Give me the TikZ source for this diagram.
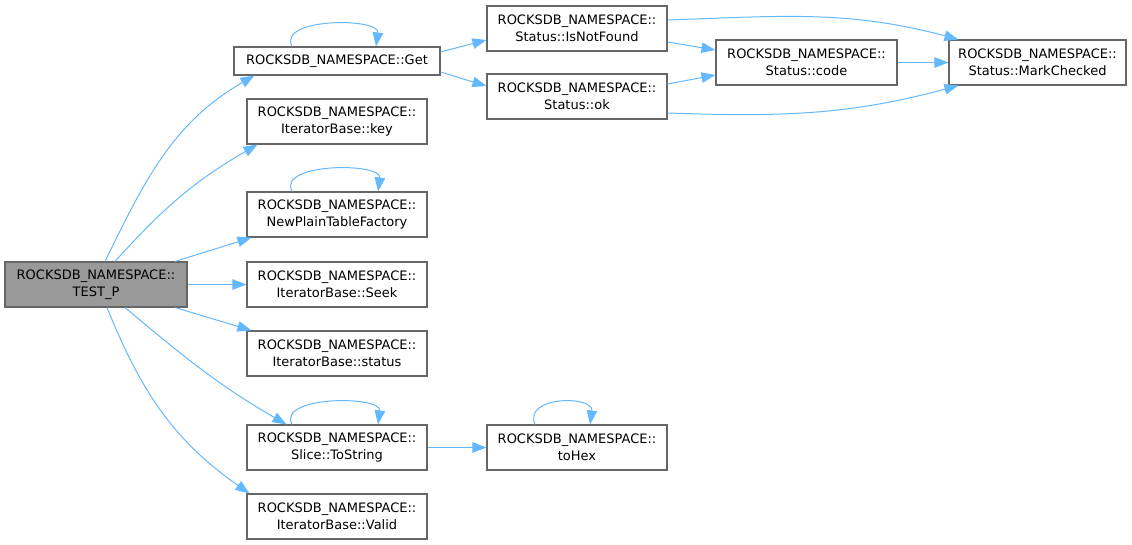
\documentclass[tikz,border=0pt]{standalone}
\usepackage{fontspec}
\setmainfont{DejaVu Sans}
\usetikzlibrary{arrows.meta}
\definecolor{edgeblue}{HTML}{63B8FF}
\definecolor{bordergray}{HTML}{666666}
\definecolor{fillgray}{HTML}{999999}
\begin{document}
\begin{tikzpicture}[x=1pt,y=1pt,
  fn/.style={draw=bordergray, line width=1.1pt, fill=white, minimum width=180pt, minimum height=45pt,
    inner sep=0pt, align=center, font=\fontsize{13}{16.7}\selectfont},
  cur/.style={fn, fill=fillgray},
  call/.style={draw=edgeblue, line width=1pt, -{Triangle[length=14pt,width=10.5pt]}},
]
\useasboundingbox (0,0) rectangle (1132,-545);
\node[cur] (T) at (96,-284.5) [minimum width=182pt] {ROCKSDB\_NAMESPACE::\\TEST\_P};
\node[fn, minimum width=206pt, minimum height=28pt] (G) at (337,-61) {ROCKSDB\_NAMESPACE::Get};
\node[fn] (K) at (337,-121.5) {ROCKSDB\_NAMESPACE::\\IteratorBase::key};
\node[fn] (N) at (337,-214.5) {ROCKSDB\_NAMESPACE::\\NewPlainTableFactory};
\node[fn] (S) at (337,-284.5) {ROCKSDB\_NAMESPACE::\\IteratorBase::Seek};
\node[fn] (St) at (337,-353.5) {ROCKSDB\_NAMESPACE::\\IteratorBase::status};
\node[fn] (TS) at (337,-447.5) {ROCKSDB\_NAMESPACE::\\Slice::ToString};
\node[fn] (V) at (337,-516.5) {ROCKSDB\_NAMESPACE::\\IteratorBase::Valid};
\node[fn] (INF) at (577,-28.5) {ROCKSDB\_NAMESPACE::\\Status::IsNotFound};
\node[fn] (OK) at (577,-96.5) {ROCKSDB\_NAMESPACE::\\Status::ok};
\node[fn, minimum width=181pt] (C) at (806.5,-62.5) {ROCKSDB\_NAMESPACE::\\Status::code};
\node[fn, minimum width=177pt] (MC) at (1037.5,-62.5) {ROCKSDB\_NAMESPACE::\\Status::MarkChecked};
\node[fn] (H) at (577,-447.5) {ROCKSDB\_NAMESPACE::\\toHex};

% from TEST_P
\draw[call] ([xshift=9]T.north) to[out=64,in=210] ([xshift=21]G.south west);
\draw[call] ([xshift=19]T.north) to[out=48,in=210] ([xshift=11]K.south west);
\draw[call] ([xshift=79]T.north) -- ([xshift=5]N.south west);
\draw[call] (T.east) -- (S.west);
\draw[call] ([xshift=79]T.south) -- ([xshift=5]St.north west);
\draw[call] ([xshift=29]T.south) to[out=-40,in=150] ([xshift=40]TS.north west);
\draw[call] ([xshift=11]T.south) to[out=-68,in=145] ([xshift=3]V.north west);

% self loops
\draw[call] ([xshift=-45]G.north) .. controls +(-15,29) and +(4,29) .. ([xshift=39]G.north);
\draw[call] ([xshift=-45]N.north) .. controls +(-15,29) and +(4,29) .. ([xshift=41]N.north);
\draw[call] ([xshift=-45]TS.north) .. controls +(-15,29) and +(4,29) .. ([xshift=41]TS.north);
\draw[call] ([xshift=-42]H.north) .. controls +(-12,29) and +(4,29) .. ([xshift=13]H.north);

% Get callees
\draw[call] ([yshift=9]G.east) -- ([yshift=-11.5]INF.west);
\draw[call] ([yshift=-11]G.east) -- ([yshift=10.5]OK.west);
\draw[call] ([yshift=-13.5]INF.east) -- ([yshift=12.5]C.west);
\draw[call] ([yshift=12.5]OK.east) -- ([yshift=-12.5]C.west);
\draw[call] ([yshift=8.5]INF.east) to[out=2,in=165] ([xshift=10]MC.north west);
\draw[call] ([yshift=-16.5]OK.east) to[out=-2,in=195] ([xshift=10]MC.south west);
\draw[call] (C.east) -- (MC.west);

% ToString callee
\draw[call] (TS.east) -- (H.west);
\end{tikzpicture}
\end{document}
